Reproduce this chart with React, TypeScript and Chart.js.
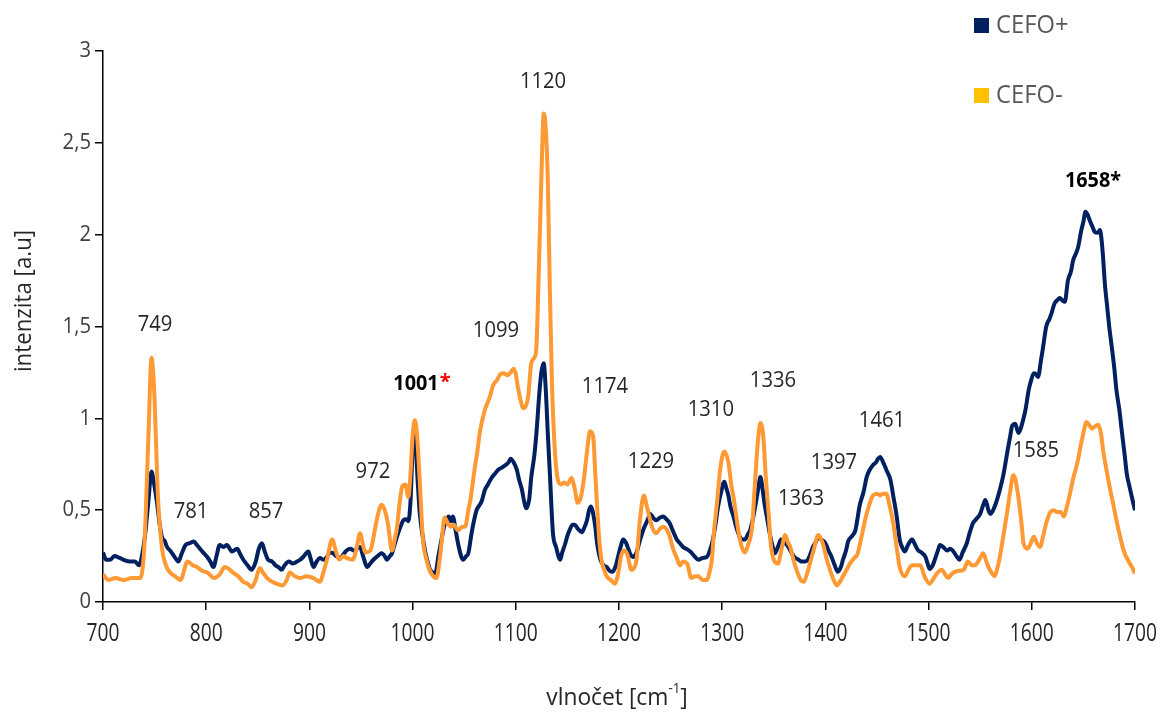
import React, { useEffect, useRef } from "react";
import { Chart, registerables } from "chart.js";

Chart.register(...registerables);

// Raman spectra: [wavenumber (cm-1), intensity (a.u.)]
const cefoPlus: [number, number][] = [
  [700, 0.27], [703, 0.23], [707, 0.23], [711, 0.25], [716, 0.24], [720, 0.23], [726, 0.22], [731, 0.22],
  [735, 0.2], [738, 0.26], [741, 0.375], [744, 0.55], [747, 0.71], [749, 0.66], [752, 0.555], [755, 0.42],
  [757, 0.355], [760, 0.33], [762, 0.3], [765, 0.28], [767, 0.265], [770, 0.24], [773, 0.22], [776, 0.26],
  [780, 0.31], [784, 0.32], [788, 0.33], [791, 0.31], [794, 0.29], [797, 0.27], [801, 0.245], [804, 0.22],
  [807, 0.19], [810, 0.25], [813, 0.31], [817, 0.3], [820, 0.31], [825, 0.275], [830, 0.29], [833, 0.26],
  [836, 0.23], [840, 0.2], [844, 0.175], [848, 0.22], [851, 0.29], [854, 0.32], [857, 0.27], [860, 0.23],
  [864, 0.22], [867, 0.2], [870, 0.19], [873, 0.175], [876, 0.2], [880, 0.22], [884, 0.21], [888, 0.22],
  [891, 0.23], [894, 0.245], [899, 0.275], [901, 0.24], [904, 0.19], [907, 0.22], [910, 0.24], [914, 0.23],
  [917, 0.245], [920, 0.27], [923, 0.265], [926, 0.25], [930, 0.24], [933, 0.26], [936, 0.28], [940, 0.29],
  [943, 0.28], [946, 0.29], [949, 0.3], [952, 0.25], [956, 0.19], [959, 0.21], [962, 0.23], [966, 0.25],
  [970, 0.265], [973, 0.25], [975, 0.23], [978, 0.25], [980, 0.265], [983, 0.32], [986, 0.375], [989, 0.42],
  [991, 0.445], [994, 0.45], [996, 0.44], [998, 0.55], [1001, 0.92], [1003, 0.85], [1005, 0.65], [1007, 0.48],
  [1010, 0.35], [1012, 0.28], [1015, 0.21], [1017, 0.175], [1020, 0.16], [1022, 0.155], [1025, 0.25], [1028, 0.34],
  [1031, 0.42], [1035, 0.465], [1037, 0.44], [1039, 0.465], [1042, 0.38], [1044, 0.32], [1047, 0.25], [1049, 0.23],
  [1052, 0.25], [1054, 0.265], [1057, 0.37], [1059, 0.43], [1062, 0.5], [1064, 0.52], [1067, 0.55], [1070, 0.61],
  [1073, 0.64], [1077, 0.68], [1080, 0.7], [1083, 0.72], [1086, 0.73], [1090, 0.745], [1093, 0.76], [1095, 0.78],
  [1098, 0.76], [1101, 0.72], [1103, 0.67], [1106, 0.61], [1108, 0.55], [1110, 0.51], [1113, 0.56], [1115, 0.68],
  [1118, 0.8], [1120, 0.92], [1123, 1.15], [1125, 1.26], [1127, 1.3], [1129, 1.16], [1131, 0.92], [1133, 0.7],
  [1136, 0.375], [1139, 0.3], [1143, 0.23], [1145, 0.27], [1148, 0.32], [1150, 0.36], [1152, 0.39], [1155, 0.42],
  [1157, 0.42], [1160, 0.4], [1164, 0.38], [1166, 0.4], [1169, 0.445], [1171, 0.5], [1173, 0.52], [1175, 0.48],
  [1177, 0.41], [1179, 0.31], [1182, 0.23], [1185, 0.2], [1188, 0.19], [1191, 0.17], [1194, 0.165], [1197, 0.2],
  [1199, 0.245], [1202, 0.31], [1204, 0.34], [1207, 0.32], [1209, 0.29], [1211, 0.26], [1214, 0.245], [1217, 0.27],
  [1220, 0.33], [1224, 0.4], [1228, 0.45], [1230, 0.48], [1233, 0.46], [1236, 0.445], [1240, 0.46], [1243, 0.465],
  [1246, 0.45], [1249, 0.43], [1252, 0.39], [1256, 0.34], [1259, 0.32], [1262, 0.3], [1265, 0.29], [1269, 0.275],
  [1273, 0.25], [1277, 0.23], [1281, 0.24], [1285, 0.245], [1288, 0.28], [1291, 0.34], [1294, 0.44], [1296, 0.52],
  [1299, 0.6], [1302, 0.655], [1304, 0.62], [1306, 0.58], [1308, 0.52], [1311, 0.465], [1314, 0.4], [1317, 0.355],
  [1320, 0.34], [1322, 0.34], [1325, 0.37], [1327, 0.39], [1330, 0.46], [1332, 0.52], [1335, 0.62], [1337, 0.68],
  [1339, 0.62], [1341, 0.535], [1344, 0.44], [1346, 0.375], [1349, 0.3], [1351, 0.265], [1354, 0.3], [1357, 0.34],
  [1361, 0.32], [1364, 0.3], [1367, 0.27], [1370, 0.245], [1374, 0.23], [1377, 0.22], [1380, 0.22], [1383, 0.23],
  [1386, 0.27], [1388, 0.3], [1391, 0.33], [1393, 0.355], [1396, 0.34], [1400, 0.32], [1403, 0.28], [1406, 0.245],
  [1409, 0.2], [1412, 0.165], [1415, 0.19], [1417, 0.23], [1420, 0.28], [1422, 0.33], [1426, 0.36], [1429, 0.39],
  [1431, 0.45], [1433, 0.52], [1437, 0.6], [1440, 0.68], [1443, 0.72], [1446, 0.745], [1449, 0.76], [1451, 0.78],
  [1453, 0.79], [1456, 0.76], [1459, 0.72], [1463, 0.665], [1466, 0.57], [1469, 0.47], [1472, 0.34], [1475, 0.29],
  [1477, 0.275], [1480, 0.31], [1484, 0.34], [1487, 0.31], [1490, 0.28], [1493, 0.27], [1497, 0.245], [1499, 0.21],
  [1501, 0.18], [1504, 0.2], [1506, 0.23], [1509, 0.28], [1511, 0.31], [1514, 0.3], [1518, 0.28], [1521, 0.29],
  [1524, 0.275], [1527, 0.25], [1530, 0.23], [1533, 0.27], [1537, 0.32], [1540, 0.38], [1543, 0.43], [1546, 0.45],
  [1550, 0.48], [1553, 0.53], [1555, 0.555], [1558, 0.5], [1560, 0.48], [1564, 0.52], [1567, 0.57], [1569, 0.61],
  [1572, 0.68], [1574, 0.74], [1577, 0.84], [1579, 0.9], [1581, 0.96], [1584, 0.97], [1587, 0.92], [1589, 0.94],
  [1592, 1.0], [1594, 1.05], [1597, 1.155], [1599, 1.2], [1602, 1.245], [1604, 1.24], [1606, 1.225], [1609, 1.32],
  [1611, 1.39], [1614, 1.5], [1617, 1.54], [1619, 1.57], [1622, 1.625], [1625, 1.645], [1627, 1.655], [1630, 1.64],
  [1632, 1.635], [1635, 1.75], [1638, 1.8], [1640, 1.86], [1643, 1.9], [1645, 1.935], [1648, 2.025], [1650, 2.07],
  [1652, 2.125], [1654, 2.11], [1656, 2.08], [1659, 2.04], [1661, 2.015], [1664, 2.01], [1666, 2.025], [1668, 1.95],
  [1669, 1.88], [1671, 1.72], [1673, 1.61], [1675, 1.5], [1677, 1.41], [1680, 1.27], [1682, 1.155], [1685, 1.04],
  [1687, 0.94], [1690, 0.8], [1692, 0.7], [1695, 0.62], [1697, 0.57], [1700, 0.5],
];

const cefoMinus: [number, number][] = [
  [700, 0.15], [705, 0.12], [712, 0.13], [720, 0.12], [728, 0.13], [736, 0.13], [740, 0.3], [744, 0.9],
  [747, 1.33], [750, 1.1], [753, 0.6], [757, 0.3], [761, 0.2], [765, 0.16], [770, 0.14], [775, 0.12],
  [782, 0.22], [787, 0.2], [791, 0.19], [796, 0.17], [801, 0.16], [808, 0.13], [813, 0.15], [818, 0.19],
  [822, 0.18], [826, 0.16], [831, 0.14], [836, 0.11], [840, 0.1], [844, 0.08], [848, 0.12], [852, 0.185],
  [855, 0.16], [859, 0.13], [864, 0.11], [868, 0.1], [874, 0.09], [878, 0.12], [881, 0.16], [886, 0.14],
  [891, 0.13], [897, 0.14], [904, 0.13], [910, 0.11], [914, 0.17], [917, 0.23], [922, 0.34], [926, 0.27],
  [929, 0.23], [933, 0.25], [936, 0.24], [942, 0.23], [946, 0.3], [949, 0.375], [952, 0.31], [954, 0.27],
  [959, 0.28], [964, 0.41], [967, 0.49], [970, 0.53], [973, 0.5], [976, 0.43], [980, 0.28], [983, 0.35],
  [985, 0.41], [987, 0.52], [990, 0.63], [993, 0.64], [996, 0.57], [998, 0.7], [1000, 0.9], [1002, 0.99],
  [1004, 0.93], [1007, 0.65], [1010, 0.34], [1013, 0.24], [1016, 0.18], [1020, 0.14], [1023, 0.13], [1026, 0.22],
  [1028, 0.32], [1031, 0.46], [1034, 0.43], [1037, 0.41], [1040, 0.42], [1044, 0.39], [1048, 0.41], [1051, 0.41],
  [1054, 0.5], [1056, 0.555], [1060, 0.72], [1063, 0.83], [1065, 0.92], [1070, 1.045], [1075, 1.12], [1078, 1.18],
  [1082, 1.21], [1085, 1.24], [1088, 1.245], [1092, 1.235], [1095, 1.25], [1098, 1.27], [1100, 1.24], [1102, 1.17],
  [1105, 1.09], [1107, 1.055], [1109, 1.06], [1112, 1.12], [1115, 1.3], [1118, 1.33], [1120, 1.39], [1122, 1.75],
  [1124, 2.15], [1126, 2.55], [1127, 2.66], [1129, 2.58], [1131, 2.3], [1133, 1.7], [1135, 1.2], [1138, 0.81],
  [1141, 0.66], [1144, 0.64], [1147, 0.65], [1150, 0.64], [1154, 0.675], [1157, 0.62], [1160, 0.54], [1163, 0.57],
  [1166, 0.67], [1169, 0.82], [1172, 0.93], [1175, 0.9], [1177, 0.7], [1179, 0.5], [1181, 0.33], [1183, 0.23],
  [1186, 0.17], [1188, 0.14], [1192, 0.12], [1196, 0.1], [1199, 0.15], [1202, 0.25], [1205, 0.28], [1208, 0.26],
  [1212, 0.175], [1215, 0.19], [1217, 0.23], [1220, 0.43], [1224, 0.58], [1227, 0.52], [1232, 0.41], [1236, 0.375],
  [1240, 0.4], [1243, 0.41], [1248, 0.375], [1253, 0.28], [1256, 0.24], [1259, 0.2], [1262, 0.22], [1266, 0.21],
  [1270, 0.13], [1274, 0.14], [1277, 0.14], [1281, 0.12], [1285, 0.12], [1288, 0.17], [1290, 0.23], [1292, 0.38],
  [1295, 0.54], [1298, 0.72], [1302, 0.82], [1306, 0.76], [1309, 0.63], [1311, 0.57], [1316, 0.375], [1319, 0.3],
  [1322, 0.27], [1325, 0.31], [1329, 0.41], [1331, 0.58], [1333, 0.755], [1335, 0.9], [1337, 0.975], [1340, 0.89],
  [1342, 0.7], [1345, 0.48], [1347, 0.32], [1350, 0.23], [1354, 0.21], [1358, 0.3], [1361, 0.365], [1364, 0.32],
  [1366, 0.3], [1369, 0.23], [1372, 0.175], [1376, 0.12], [1379, 0.11], [1382, 0.15], [1385, 0.21], [1389, 0.29],
  [1393, 0.365], [1396, 0.34], [1398, 0.31], [1401, 0.24], [1405, 0.165], [1408, 0.12], [1411, 0.09], [1414, 0.11],
  [1417, 0.14], [1420, 0.17], [1424, 0.21], [1428, 0.24], [1431, 0.26], [1435, 0.355], [1439, 0.46], [1442, 0.52],
  [1446, 0.58], [1450, 0.59], [1453, 0.58], [1456, 0.59], [1459, 0.59], [1462, 0.53], [1466, 0.42], [1469, 0.3],
  [1472, 0.19], [1477, 0.14], [1480, 0.17], [1484, 0.2], [1488, 0.2], [1492, 0.2], [1496, 0.14], [1501, 0.1],
  [1504, 0.12], [1508, 0.155], [1513, 0.175], [1516, 0.15], [1519, 0.13], [1522, 0.15], [1526, 0.165], [1530, 0.17],
  [1534, 0.175], [1538, 0.22], [1542, 0.2], [1545, 0.2], [1549, 0.23], [1553, 0.265], [1556, 0.22], [1558, 0.19],
  [1561, 0.16], [1564, 0.14], [1566, 0.17], [1569, 0.245], [1573, 0.38], [1576, 0.485], [1579, 0.6], [1582, 0.69],
  [1584, 0.67], [1587, 0.57], [1590, 0.43], [1592, 0.32], [1596, 0.29], [1599, 0.32], [1602, 0.355], [1605, 0.32],
  [1608, 0.3], [1611, 0.36], [1614, 0.43], [1618, 0.49], [1621, 0.5], [1624, 0.49], [1628, 0.49], [1631, 0.465],
  [1634, 0.52], [1637, 0.59], [1640, 0.67], [1644, 0.755], [1647, 0.84], [1650, 0.92], [1653, 0.98], [1656, 0.96],
  [1658, 0.945], [1661, 0.955], [1664, 0.965], [1667, 0.92], [1669, 0.83], [1672, 0.73], [1676, 0.61], [1679, 0.53],
  [1682, 0.445], [1685, 0.37], [1689, 0.28], [1692, 0.24], [1695, 0.21], [1698, 0.18], [1700, 0.155],
];

const seriesNames = ["CEFO+", "CEFO-"];
const xTickValues = [700, 800, 900, 1000, 1100, 1200, 1300, 1400, 1500, 1600, 1700];
const yTickValues = [0, 0.5, 1, 1.5, 2, 2.5, 3];

// Band assignments written above the spectra: [label, wavenumber, intensity]
const bandLabels: [string, number, number][] = [
  ["749", 750.4, 1.508],
  ["781", 785.3, 0.49],
  ["857", 858, 0.49],
  ["972", 961.6, 0.708],
  ["1099", 1080.8, 1.475],
  ["1120", 1126.4, 2.83],
  ["1174", 1186.4, 1.17],
  ["1229", 1231, 0.762],
  ["1310", 1289, 1.045],
  ["1336", 1349.2, 1.203],
  ["1363", 1376.4, 0.561],
  ["1397", 1408.3, 0.757],
  ["1461", 1454.8, 0.985],
  ["1585", 1604, 0.822],
];
const markedBands: [string, number, number][] = [
  ["1001", 1003.3, 1.187],
  ["1658*", 1659.3, 2.292],
];

const NAVY = "#002060";
const ORANGE = "#FF9933";
const LEGEND_ORANGE = "#FFC000";
const FONT = '"Open Sans", sans-serif';

function drawText(
  ctx: CanvasRenderingContext2D,
  text: string,
  x: number,
  y: number,
  size: number,
  color: string,
  align: CanvasTextAlign = "center",
  sx = 1,
  weight = "normal"
): number {
  ctx.save();
  ctx.font = `${weight} ${size}px ${FONT}`;
  ctx.fillStyle = color;
  ctx.textBaseline = "middle";
  ctx.textAlign = align;
  ctx.translate(x, y);
  ctx.scale(sx, 1);
  ctx.fillText(text, 0, 0);
  const w = ctx.measureText(text).width * sx;
  ctx.restore();
  return w;
}

const overlayPlugin = {
  id: "spectrumOverlay",
  afterDraw(chart: any) {
    const ctx: CanvasRenderingContext2D = chart.ctx;
    const xs = chart.scales.x;
    const ys = chart.scales.y;

    // tick labels
    yTickValues.forEach((v) => {
      drawText(ctx, String(v).replace(".", ","), 91, ys.getPixelForValue(v), 22, "#404040", "right", 0.92);
    });
    xTickValues.forEach((v) => {
      drawText(ctx, String(v), xs.getPixelForValue(v), 634, 26, "#262626", "center", 0.74);
    });

    // axis titles
    ctx.save();
    ctx.translate(24, 301);
    ctx.rotate(-Math.PI / 2);
    drawText(ctx, "intenzita [a.u]", 0, 0, 23, "#262626", "center", 0.97);
    ctx.restore();

    const titleSize = 24;
    const titleSx = 0.95;
    ctx.save();
    ctx.font = `normal ${titleSize}px ${FONT}`;
    const mainPart = "vlnočet [cm";
    const w1 = ctx.measureText(mainPart).width * titleSx;
    const w3 = ctx.measureText("]").width * titleSx;
    ctx.font = `normal 14px ${FONT}`;
    const w2 = ctx.measureText("-1").width * titleSx;
    ctx.restore();
    let tx = 617 - (w1 + w2 + w3) / 2;
    drawText(ctx, mainPart, tx, 698, titleSize, "#262626", "left", titleSx);
    tx += w1;
    drawText(ctx, "-1", tx, 689, 14, "#262626", "left", titleSx);
    tx += w2;
    drawText(ctx, "]", tx, 698, titleSize, "#262626", "left", titleSx);

    // band labels
    bandLabels.forEach(([t, x, y]) => {
      drawText(ctx, t, xs.getPixelForValue(x), ys.getPixelForValue(y), 22, "#262626", "center", 0.92);
    });
    const [t1, x1, y1] = markedBands[0];
    const px1 = xs.getPixelForValue(x1);
    const py1 = ys.getPixelForValue(y1);
    const bw = drawText(ctx, t1, px1, py1, 22, "#000000", "center", 0.9, "bold");
    drawText(ctx, "*", px1 + bw / 2 + 1, py1 - 2, 20, "#FF0000", "left", 1, "bold");
    const [t2, x2, y2] = markedBands[1];
    drawText(ctx, t2, xs.getPixelForValue(x2), ys.getPixelForValue(y2), 22, "#000000", "center", 0.9, "bold");

    // legend
    ctx.save();
    ctx.fillStyle = NAVY;
    ctx.fillRect(974, 18, 15, 15);
    ctx.fillStyle = LEGEND_ORANGE;
    ctx.fillRect(974, 88, 15, 15);
    ctx.restore();
    drawText(ctx, seriesNames[0], 996, 26, 25, "#595959", "left", 0.95);
    drawText(ctx, seriesNames[1], 996, 96, 25, "#595959", "left", 0.95);
  },
};

export default function App() {
  const canvasRef = useRef<HTMLCanvasElement | null>(null);

  useEffect(() => {
    if (!canvasRef.current) return;
    const chart = new Chart(canvasRef.current, {
      type: "line",
      data: {
        datasets: [
          {
            label: seriesNames[0],
            data: cefoPlus.map(([x, y]) => ({ x, y })),
            borderColor: NAVY,
            backgroundColor: NAVY,
            borderWidth: 4,
            pointRadius: 0,
            cubicInterpolationMode: "monotone",
            order: 1,
          },
          {
            label: seriesNames[1],
            data: cefoMinus.map(([x, y]) => ({ x, y })),
            borderColor: ORANGE,
            backgroundColor: ORANGE,
            borderWidth: 4,
            pointRadius: 0,
            cubicInterpolationMode: "monotone",
            order: 0,
          },
        ],
      },
      options: {
        animation: false,
        responsive: true,
        maintainAspectRatio: false,
        devicePixelRatio: 1,
        layout: { padding: { left: 0, right: 27, top: 51, bottom: 0 } },
        plugins: {
          legend: { display: false },
          tooltip: { enabled: false },
          title: { display: false },
        },
        scales: {
          x: {
            type: "linear",
            min: 700,
            max: 1700,
            ticks: { display: false, stepSize: 100 },
            grid: { display: true, drawOnChartArea: false, drawTicks: true, tickLength: 8, color: "#000", lineWidth: 1.5 },
            border: { display: true, color: "#000", width: 1.5 },
            afterFit: (scale: any) => {
              scale.height = 116;
            },
          },
          y: {
            min: 0,
            max: 3,
            ticks: { display: false, stepSize: 0.5 },
            grid: { display: true, drawOnChartArea: false, drawTicks: true, tickLength: 8, color: "#000", lineWidth: 1.5 },
            border: { display: true, color: "#000", width: 1.5 },
            afterFit: (scale: any) => {
              scale.width = 103;
            },
          },
        },
      },
      plugins: [overlayPlugin],
    });
    return () => chart.destroy();
  }, []);

  return (
    <div style={{ position: "fixed", left: 0, top: 0, width: 1162, height: 718, background: "#fff" }}>
      <canvas ref={canvasRef} />
    </div>
  );
}
